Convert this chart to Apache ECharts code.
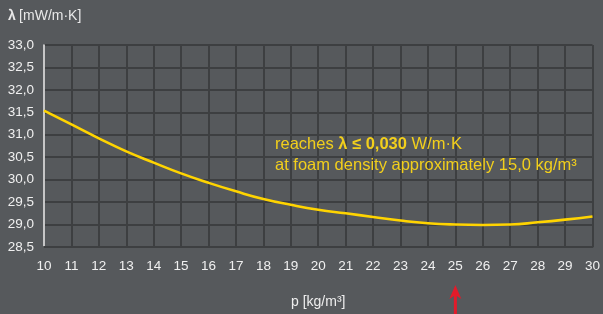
<!DOCTYPE html>
<html><head><meta charset="utf-8">
<script src="https://cdn.jsdelivr.net/npm/echarts@6/dist/echarts.min.js"></script>
<style>html,body{margin:0;padding:0;background:#56595c}#c{width:603px;height:314px}</style>
</head><body><div id="c"></div>
<script>
const densities = [10,11,12,13,14,15,16,17,18,19,20,21,22,23,24,25,26,27,28,29,30];
const lambdaValues = [31.54,31.23,30.92,30.63,30.38,30.14,29.93,29.74,29.57,29.44,29.33,29.25,29.17,29.09,29.03,29.0,28.99,29.0,29.05,29.11,29.18];
const yTicks = {min:28.5, max:33.0, step:0.5};
const xTicks = {min:10, max:30, step:1};
const markedDensity = 25;

const chart = echarts.init(document.getElementById('c'), null, {renderer:'canvas'});
const font = 'Liberation Sans, Arial, sans-serif';
const gridColor = '#3d3f41';
chart.setOption({
  backgroundColor:'#56595c',
  animation:false,
  grid:{left:44,right:8,top:45,bottom:66,containLabel:false},
  xAxis:{type:'value',min:xTicks.min,max:xTicks.max,interval:xTicks.step,
    name:'p [kg/m³]',nameLocation:'middle',nameGap:48,
    nameTextStyle:{color:'#eeeeee',fontSize:14,fontFamily:font},
    axisLine:{show:true,lineStyle:{color:gridColor,width:2}},
    axisTick:{show:false},
    axisLabel:{color:'#f0f0f0',fontSize:13.5,fontFamily:font,margin:12},
    splitLine:{show:true,lineStyle:{color:gridColor,width:2}}},
  yAxis:{type:'value',min:yTicks.min,max:yTicks.max,interval:yTicks.step,
    axisLine:{show:true,lineStyle:{color:'#f4f4f4',width:1.5}},
    axisTick:{show:false},
    axisLabel:{color:'#f0f0f0',fontSize:13.5,fontFamily:font,margin:10,
      formatter:v=>v.toFixed(1).replace('.',',')},
    splitLine:{show:true,lineStyle:{color:gridColor,width:2}}},
  series:[{type:'line',data:densities.map((d,i)=>[d,lambdaValues[i]]),smooth:true,
    symbol:'none',lineStyle:{color:'#ffd400',width:2.6}}],
  graphic:[
    {id:'title',type:'text',left:8,top:9,z:100,style:{
      text:'{b|λ} {n|[mW/m·K]}',
      rich:{b:{fill:'#e8e8e8',fontSize:14,fontFamily:font,fontWeight:'bold'},
            n:{fill:'#e8e8e8',fontSize:14,fontFamily:font}}}},
    {id:'note',type:'text',left:275,top:136,z:100,style:{
      text:'{n|reaches }{b|λ ≤ 0,030}{n| W/m·K}\n{n|at foam density approximately 15,0 kg/m³}',
      rich:{n:{fill:'#f2cf1c',fontSize:16.5,fontFamily:font,lineHeight:21},
            b:{fill:'#f2cf1c',fontSize:16.5,fontFamily:font,fontWeight:'bold',lineHeight:21}}}}
  ]
});
const px = chart.convertToPixel({gridIndex:0},[markedDensity,yTicks.min]);
chart.setOption({graphic:[{id:'arrow',type:'polygon',z:100,shape:{points:[
  [px[0],285],[px[0]+6,299],[px[0]+1.5,296],[px[0]+1.5,314],[px[0]-1.5,314],[px[0]-1.5,296],[px[0]-6,299]]},
  style:{fill:'#e31b2a'}}]});
</script></body></html>
